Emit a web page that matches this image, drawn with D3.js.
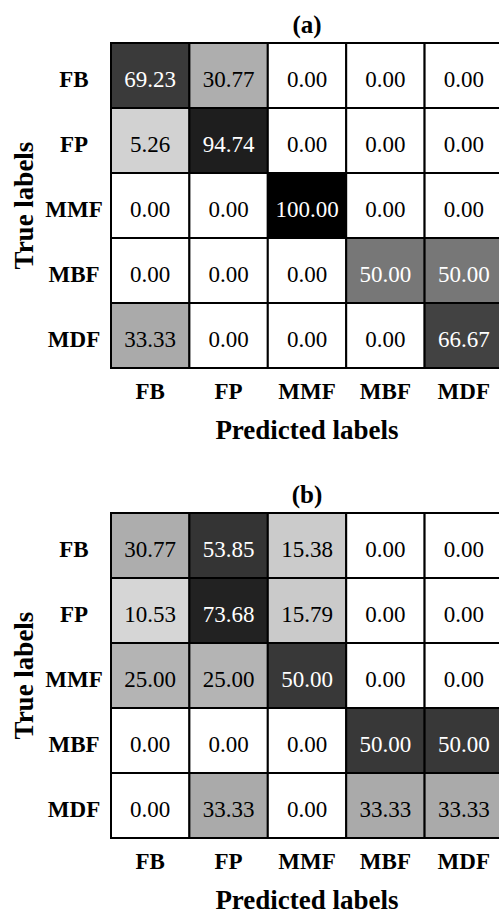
<!DOCTYPE html>
<html>
<head>
<meta charset="utf-8">
<script src="https://cdn.jsdelivr.net/npm/d3@7"></script>
<style>
  html, body { margin: 0; padding: 0; background: #fff; overflow: hidden; }
  svg { display: block; }
  text { font-family: "Liberation Serif", "DejaVu Serif", serif; }
</style>
</head>
<body>
<svg id="chart" width="499" height="916"></svg>
<script>
// ---- data ----
const classes = ["FB", "FP", "MMF", "MBF", "MDF"];
const panelTitles = ["(a)", "(b)"];
const matrixA = [
  [69.23, 30.77, 0.00, 0.00, 0.00],
  [5.26, 94.74, 0.00, 0.00, 0.00],
  [0.00, 0.00, 100.00, 0.00, 0.00],
  [0.00, 0.00, 0.00, 50.00, 50.00],
  [33.33, 0.00, 0.00, 0.00, 66.67]
];
const matrixB = [
  [30.77, 53.85, 15.38, 0.00, 0.00],
  [10.53, 73.68, 15.79, 0.00, 0.00],
  [25.00, 25.00, 50.00, 0.00, 0.00],
  [0.00, 0.00, 0.00, 50.00, 50.00],
  [0.00, 33.33, 0.00, 33.33, 33.33]
];
const xTitle = "Predicted labels";
const yTitle = "True labels";

// ---- colour scales (grey levels) ----
const colorA = d3.scaleLinear()
  .domain([0, 5.26, 33.33, 50, 69.23, 94.74, 100])
  .range(["#ffffff", "#d2d2d2", "#aaaaaa", "#777777", "#3a3a3a", "#1e1e1e", "#000000"])
  .interpolate(d3.interpolateRgb);
const colorB = d3.scaleLinear()
  .domain([0, 10.53, 25, 33.33, 50, 73.68])
  .range(["#ffffff", "#d6d6d6", "#b4b4b4", "#aaaaaa", "#383838", "#222222"])
  .interpolate(d3.interpolateRgb);

const svg = d3.select("#chart");

function drawPanel(matrix, color, title, top) {
  const left = 111, cellW = 78.4, cellH = 65;
  const x = d3.scaleBand().domain(classes).range([left, left + cellW * classes.length]).padding(0);
  const y = d3.scaleBand().domain(classes).range([top, top + cellH * classes.length]).padding(0);
  const g = svg.append("g");

  const cells = [];
  matrix.forEach((row, i) => row.forEach((v, j) => cells.push({ r: classes[i], c: classes[j], v })));

  g.selectAll("rect.cell").data(cells).enter().append("rect")
    .attr("class", "cell")
    .attr("x", d => x(d.c)).attr("y", d => y(d.r))
    .attr("width", x.bandwidth()).attr("height", y.bandwidth())
    .attr("fill", d => color(d.v))
    .attr("stroke", "#000").attr("stroke-width", 2);

  g.selectAll("text.val").data(cells).enter().append("text")
    .attr("class", "val")
    .attr("x", d => x(d.c) + x.bandwidth() / 2)
    .attr("y", d => y(d.r) + y.bandwidth() / 2 + 11)
    .attr("text-anchor", "middle")
    .attr("font-size", 23)
    .attr("fill", d => d3.hsl(color(d.v)).l < 0.5 ? "#ffffff" : "#000000")
    .text(d => d.v.toFixed(2));

  // row labels
  g.selectAll("text.rowlab").data(classes).enter().append("text")
    .attr("class", "rowlab")
    .attr("x", 74)
    .attr("y", d => y(d) + y.bandwidth() / 2 + 11)
    .attr("text-anchor", "middle")
    .attr("font-size", 23).attr("font-weight", "bold")
    .text(d => d);

  // column labels
  const bottom = top + cellH * classes.length;
  g.selectAll("text.collab").data(classes).enter().append("text")
    .attr("class", "collab")
    .attr("x", d => x(d) + x.bandwidth() / 2)
    .attr("y", bottom + 31)
    .attr("text-anchor", "middle")
    .attr("font-size", 23).attr("font-weight", "bold")
    .text(d => d);

  // axis titles
  const cx = left + cellW * classes.length / 2;
  g.append("text")
    .attr("x", cx).attr("y", bottom + 71)
    .attr("text-anchor", "middle")
    .attr("font-size", 27).attr("font-weight", "bold")
    .text(xTitle);

  g.append("text")
    .attr("transform", `translate(33,${top + cellH * classes.length / 2}) rotate(-90)`)
    .attr("text-anchor", "middle")
    .attr("font-size", 27).attr("font-weight", "bold")
    .text(yTitle);

  // panel title
  g.append("text")
    .attr("x", cx).attr("y", top - 10)
    .attr("text-anchor", "middle")
    .attr("font-size", 25).attr("font-weight", "bold")
    .text(title);
}

drawPanel(matrixA, colorA, panelTitles[0], 43);
drawPanel(matrixB, colorB, panelTitles[1], 513);
</script>
</body>
</html>
